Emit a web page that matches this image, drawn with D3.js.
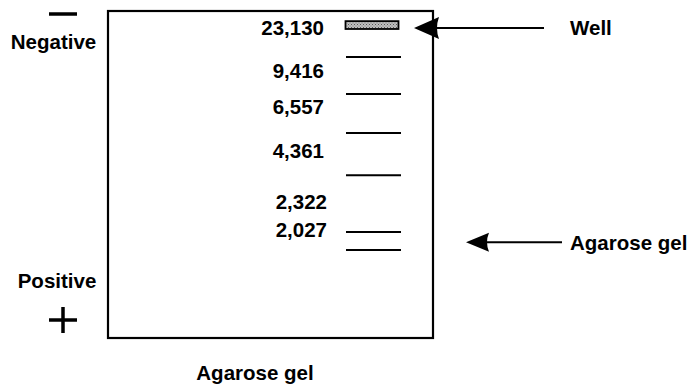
<!DOCTYPE html>
<html>
<head>
<meta charset="utf-8">
<script src="https://cdn.jsdelivr.net/npm/d3@7"></script>
<style>
  html, body { margin: 0; padding: 0; background: #fff; }
  svg { display: block; }
  text { font-family: "Liberation Sans", Arial, Helvetica, sans-serif; font-weight: bold; fill: #000; }
</style>
</head>
<body>
<svg id="chart" width="689" height="387"></svg>
<script>
// ---- data (relative migration distance, % of gel length from top) ----
const fragmentSizes = ["23,130", "9,416", "6,557", "4,361", "2,322", "2,027"];
const labelPositions = [5.2, 18.3, 29.1, 42.6, 58.4, 67.0];      // label centres (% of gel)
const bandPositions = [14.1, 25.4, 37.3, 50.2, 67.6, 73.1];      // bands (% of gel)
const wellPosition = [3.1, 5.5];                                 // well top/bottom (% of gel)
const calloutLabels = ["Well", "Agarose gel"];
const calloutPositions = [5.2, 70.7];                             // arrow heights (% of gel)
const poleLabels = ["Negative", "Positive"];
const axisTitle = "Agarose gel";

const svg = d3.select("#chart");
const gel = { left: 108, right: 433, top: 11, bottom: 338 };

const y = d3.scaleLinear().domain([0, 100]).range([gel.top, gel.bottom]);
const laneX = d3.scaleLinear().domain([0, 1]).range([346, 401]);

// hatch pattern for well
const defs = svg.append("defs");
const pat = defs.append("pattern").attr("id", "hatch").attr("patternUnits", "userSpaceOnUse")
  .attr("width", 3).attr("height", 3);
pat.append("rect").attr("width", 3).attr("height", 3).attr("fill", "#c0c0c0");
pat.append("rect").attr("width", 1).attr("height", 1).attr("fill", "#5a5a5a");
pat.append("rect").attr("x", 1.5).attr("y", 1.5).attr("width", 1).attr("height", 1).attr("fill", "#7a7a7a");

// gel box
svg.append("rect")
  .attr("x", gel.left).attr("y", gel.top)
  .attr("width", gel.right - gel.left).attr("height", gel.bottom - gel.top)
  .attr("fill", "none").attr("stroke", "#000").attr("stroke-width", 2.2);

// well
svg.append("rect")
  .attr("x", laneX(0) - 0.5).attr("y", y(wellPosition[0]))
  .attr("width", laneX(1) - laneX(0) - 2).attr("height", y(wellPosition[1]) - y(wellPosition[0]))
  .attr("fill", "url(#hatch)").attr("stroke", "#000").attr("stroke-width", 1.8);

// bands
svg.selectAll("line.band").data(bandPositions).join("line")
  .attr("class", "band")
  .attr("x1", laneX(0)).attr("x2", laneX(1))
  .attr("y1", d => y(d)).attr("y2", d => y(d))
  .attr("stroke", "#000").attr("stroke-width", 2);

// size labels
svg.selectAll("text.size").data(fragmentSizes).join("text")
  .attr("class", "size")
  .attr("x", (d, i) => i >= 4 ? 327 : 324)
  .attr("y", (d, i) => y(labelPositions[i]))
  .attr("dy", "0.36em")
  .attr("text-anchor", "end")
  .attr("font-size", 20.5)
  .text(d => d);

// callout arrows
const arrows = [
  { tip: 414, base: 439, end: 544, half: 11, label: 570 },
  { tip: 466, base: 489, end: 562, half: 9.5, label: 570 }
];
arrows.forEach((a, i) => {
  const yy = y(calloutPositions[i]);
  svg.append("line").attr("x1", a.base - 2).attr("x2", a.end)
    .attr("y1", yy).attr("y2", yy).attr("stroke", "#000").attr("stroke-width", 2);
  svg.append("path")
    .attr("d", `M${a.tip},${yy} L${a.base},${yy - a.half} Q${a.base - 4},${yy} ${a.base},${yy + a.half} Z`)
    .attr("fill", "#000");
  svg.append("text").attr("x", a.label).attr("y", yy).attr("dy", "0.36em")
    .attr("font-size", 20.5).text(calloutLabels[i]);
});

// pole labels
svg.append("text").attr("x", 53.5).attr("y", 49).attr("text-anchor", "middle")
  .attr("font-size", 20.5).text(poleLabels[0]);
svg.append("text").attr("x", 57).attr("y", 288).attr("text-anchor", "middle")
  .attr("font-size", 20.5).text(poleLabels[1]);

// minus sign
svg.append("line").attr("x1", 49).attr("x2", 77).attr("y1", 14).attr("y2", 14)
  .attr("stroke", "#000").attr("stroke-width", 3.5);
// plus sign
svg.append("line").attr("x1", 49).attr("x2", 77).attr("y1", 320).attr("y2", 320)
  .attr("stroke", "#000").attr("stroke-width", 3.5);
svg.append("line").attr("x1", 63).attr("x2", 63).attr("y1", 307).attr("y2", 333)
  .attr("stroke", "#000").attr("stroke-width", 3.5);

// bottom title
svg.append("text").attr("x", 255).attr("y", 380).attr("text-anchor", "middle")
  .attr("font-size", 20.5).text(axisTitle);
</script>
</body>
</html>
